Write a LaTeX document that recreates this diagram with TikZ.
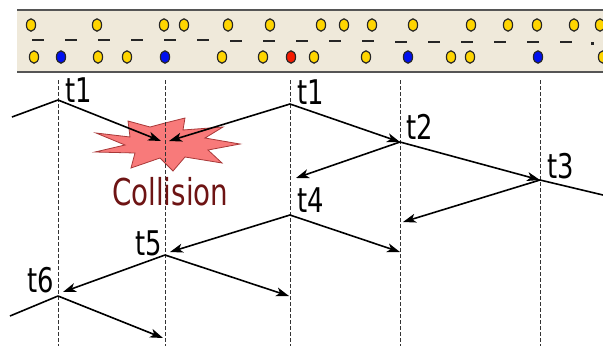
\documentclass[tikz,border=0pt]{standalone}
\usepackage{fontspec}
\usepackage{graphicx}
\usetikzlibrary{arrows.meta}
\newfontfamily\lblfont{DejaVu Sans}
\definecolor{bandfill}{HTML}{EFE9DA}
\definecolor{bandedge}{HTML}{555555}
\definecolor{dotyellow}{HTML}{FFD500}
\definecolor{dotblue}{HTML}{0010F0}
\definecolor{dotred}{HTML}{F51A00}
\definecolor{burstfill}{HTML}{F87A7A}
\definecolor{burstedge}{HTML}{A83838}
\definecolor{collisiontext}{HTML}{6E1414}

\begin{document}
\begin{tikzpicture}[x=1pt,y=-1pt,
  guide/.style={draw=black!80, line width=0.9pt, dash pattern=on 3.5pt off 2.5pt},
  signal/.style={line width=1.6pt, -{Stealth[length=13pt,width=9pt,inset=3.5pt]}},
  wire/.style={line width=1.6pt},
  stamp/.style={inner sep=0pt, anchor=base west, font=\lblfont\fontsize{34}{34}\selectfont},
  burstlabel/.style={inner sep=0pt, anchor=base west, text=collisiontext, font=\lblfont\fontsize{37}{37}\selectfont},
  bead/.style={draw=black!85, line width=1.2pt},
  gap/.style={line width=2pt, black!85}]
\useasboundingbox (0,0) rectangle (603,346);
\clip (0,0) rectangle (603,346);

% the shared medium: beige strip with frames on top and bottom
\fill[bandfill] (17,10) rectangle (603,72);
\draw[bandedge, line width=2pt] (17,10) -- (603,10);
\draw[bandedge, line width=2pt] (17,72) -- (603,72);

% gaps between frames
\foreach \x in {38,71,104,137,170,203,236,269,302,335,368,401,434,467,500,533,566}{
  \pgfmathsetmacro{\yy}{39.6+0.0053*(\x-38)}
  \draw[gap] (\x-6,\yy) -- (\x+6,\yy);
}
\fill[black!85] (591,42) rectangle (594,45);

% upper row of frames
\foreach \x in {31,97,164,184,228,270,321,344,372,413,471,508,537,574,600}{
  \filldraw[bead, fill=dotyellow] (\x,25) ellipse [x radius=4.6, y radius=6.2];
}
% lower row of frames
\foreach \x/\c in {34/dotyellow,61/dotblue,98/dotyellow,127/dotyellow,165/dotblue,
                   222/dotyellow,263/dotyellow,291/dotred,314/dotyellow,366/dotyellow,
                   408/dotblue,451/dotyellow,470/dotyellow,538/dotblue,603/dotyellow}{
  \filldraw[bead, fill=\c] (\x,57) ellipse [x radius=4.6, y radius=6.2];
}

% collision burst
\filldraw[fill=burstfill, draw=burstedge, line width=0.8pt]
  (96,133) -- (130,137) -- (128,121) -- (150,127) -- (165,123) -- (185,118) --
  (183,130) -- (223,127) -- (205,138) -- (240,144) -- (208,150) -- (222,163) --
  (185,157) -- (173,171) -- (160,158) -- (131,168) -- (135,153) -- (95,152) --
  (125,145) -- cycle;

% station time lines
\foreach \x in {58,165,290,400,540}{
  \draw[guide] (\x,80) -- (\x,346);
}

% reflection points and signal ends
\coordinate (s0) at (12,117);
\coordinate (v1) at (58,100);
\coordinate (ca) at (161,141);
\coordinate (cb) at (169,141);
\coordinate (w1) at (290,104);
\coordinate (v2) at (400,142);
\coordinate (v3) at (540,180);
\coordinate (e3) at (603,195);
\coordinate (a4) at (296,178);
\coordinate (v4) at (290,215);
\coordinate (b2) at (403,222);
\coordinate (b4) at (400,252);
\coordinate (v5) at (165,255);
\coordinate (a5) at (170,252);
\coordinate (b5) at (289,296);
\coordinate (v6) at (58,296);
\coordinate (a6) at (63,292);
\coordinate (s6) at (10,316);
\coordinate (b6) at (163,338);

% signals
\draw[wire] (s0) -- (v1);
\draw[signal] (v1) -- (ca);
\draw[signal] (w1) -- (cb);
\draw[signal] (w1) -- (v2);
\draw[signal] (v2) -- (v3);
\draw[wire] (v3) -- (e3);
\draw[signal] (v2) -- (a4);
\draw[signal] (v3) -- (b2);
\draw[signal] (v4) -- (b4);
\draw[signal] (v4) -- (a5);
\draw[signal] (v5) -- (b5);
\draw[signal] (v5) -- (a6);
\draw[wire] (s6) -- (v6);
\draw[signal] (v6) -- (b6);

% time labels
\node[stamp] (l1) at (65,102) {\scalebox{0.76}[1]{t1}};
\node[stamp] (l1b) at (297,104) {\scalebox{0.76}[1]{t1}};
\node[stamp] (l2) at (406,139) {\scalebox{0.76}[1]{t2}};
\node[stamp] (l3) at (547,178) {\scalebox{0.76}[1]{t3}};
\node[stamp] (l4) at (297,212) {\scalebox{0.76}[1]{t4}};
\node[stamp] (l5) at (135,255) {\scalebox{0.76}[1]{t5}};
\node[stamp] (l6) at (27,292) {\scalebox{0.76}[1]{t6}};
\node[burstlabel] (coll) at (112,205) {\scalebox{0.75}[1]{Collision}};
\end{tikzpicture}
\end{document}
